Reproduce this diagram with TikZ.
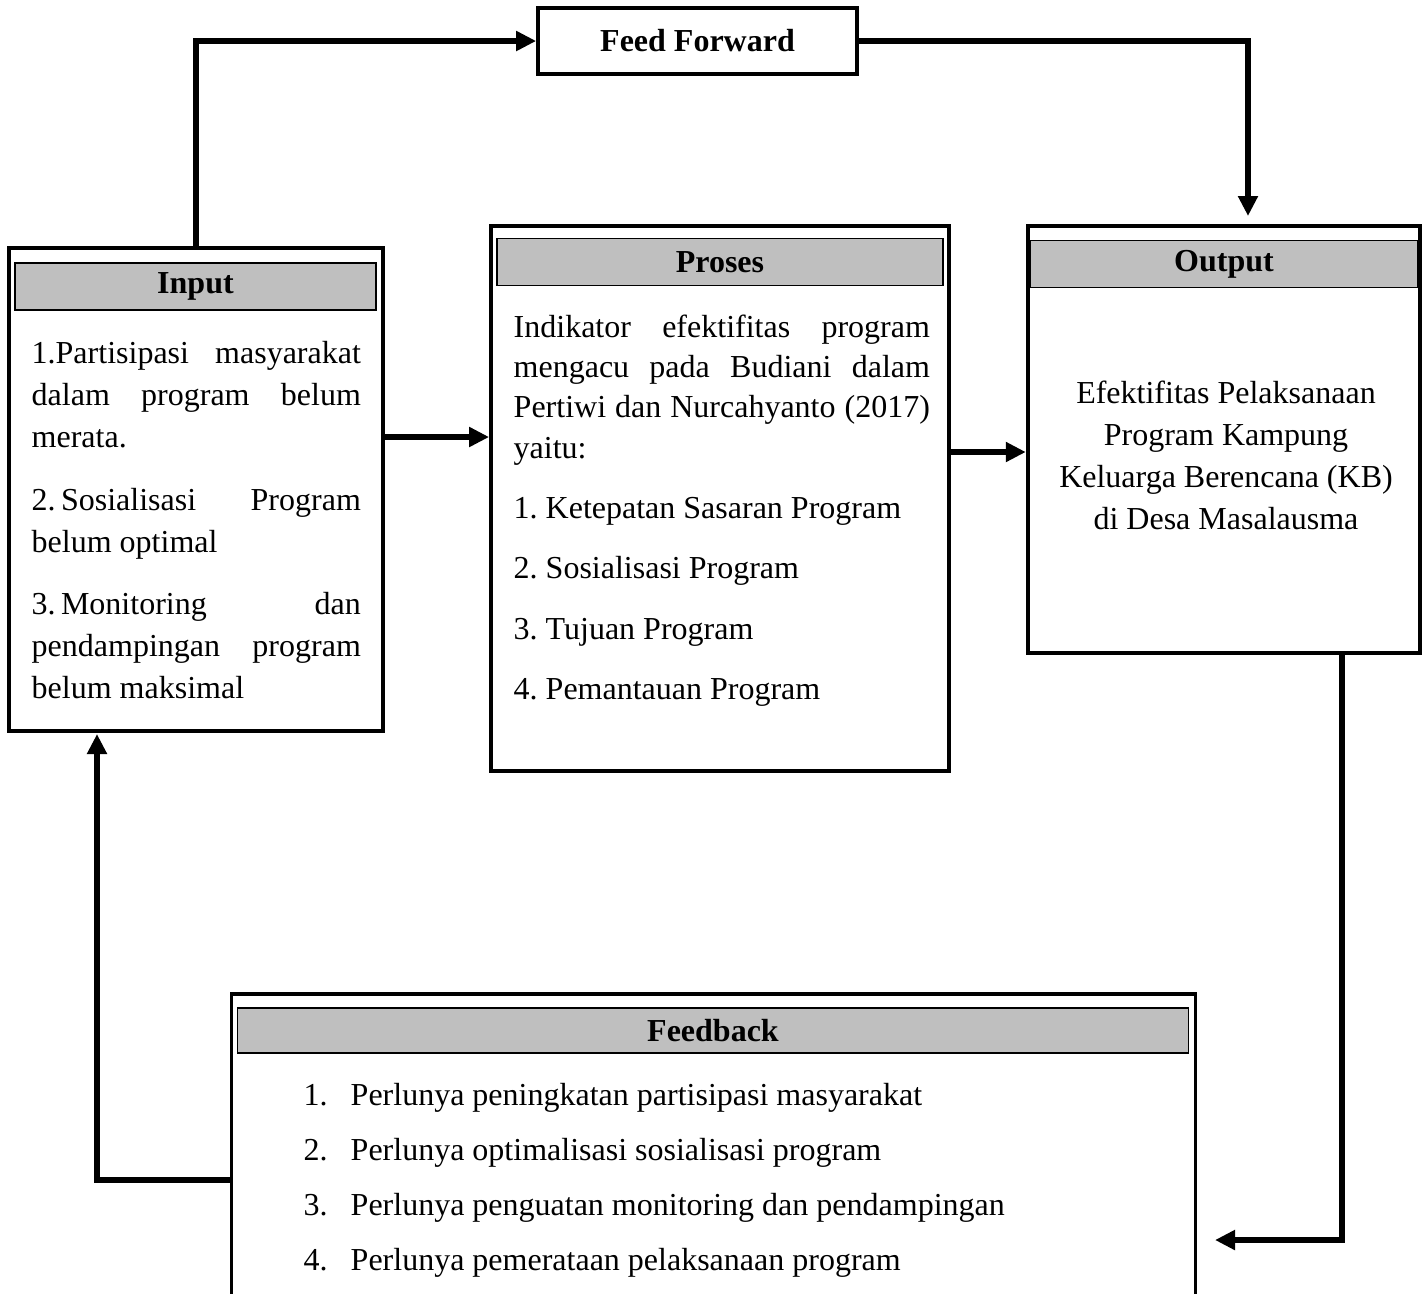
\documentclass[tikz,border=0pt]{standalone}
\usepackage{fontspec}
\setmainfont{Liberation Serif}
\frenchspacing
\usetikzlibrary{arrows.meta, positioning, calc}
\definecolor{headgray}{RGB}{191,191,191}
\tikzstyle{box}=[draw, line width=1pt, rectangle, inner sep=0pt]
\tikzstyle{head}=[draw, fill=headgray, line width=0.4pt, rectangle, inner sep=0pt, minimum height=0.47cm, font=\fontsize{9.1pt}{11.95pt}\selectfont\bfseries]
\tikzstyle{body}=[inner sep=0pt, font=\fontsize{9.1pt}{11.95pt}\selectfont, execute at begin node={\setlength{\parindent}{0pt}\setlength{\parskip}{0.2cm}\tolerance=9999\hyphenpenalty=10000}]
\tikzstyle{flow}=[-{Triangle[length=0.2cm,width=0.19cm]}, line width=1.6pt]

\begin{document}
\begin{tikzpicture}[x=0.01cm, y=-0.01cm]
\useasboundingbox (0,0) rectangle (1424,1293);

% boxes
\node[box, minimum width=3.19cm, minimum height=0.66cm, font=\fontsize{9.1pt}{11.95pt}\selectfont\bfseries] (ff) at (697.5,41) {Feed Forward};

\node[box, minimum width=3.74cm, minimum height=4.83cm] (input) at (196,489.5) {};
\node[head, minimum width=3.61cm] (inputhead) at (195.5,286.5) {Input};
\node[body, text width=3.29cm, align=justify, anchor=north west] (inputtext) at (31,341) {1.Partisipasi masyarakat dalam program belum merata.\par
2.\,Sosialisasi Program belum optimal\par
3.\,Monitoring dan pendampingan program belum maksimal};

\node[box, minimum width=4.58cm, minimum height=5.45cm] (proses) at (720,498.5) {};
\node[head, minimum width=4.46cm] (proseshead) at (720,262) {Proses};
\node[body, text width=4.16cm, align=justify, anchor=north west, font=\fontsize{9.1pt}{11.47pt}\selectfont] (prosestext) at (513,314) {Indikator efektifitas program mengacu pada Budiani dalam Pertiwi dan Nurcahyanto (2017) yaitu:\par
1. Ketepatan Sasaran Program\par
2. Sosialisasi Program\par
3. Tujuan Program\par
4. Pemantauan Program};

\node[box, line width=1.2pt, minimum width=3.92cm, minimum height=4.27cm] (output) at (1224,439.5) {};
\node[head, minimum width=3.88cm] (outputhead) at (1224,264) {Output};
\node[body, align=center, anchor=north] (outputtext) at (1226,380) {Efektifitas Pelaksanaan\\ Program Kampung\\ Keluarga Berencana (KB)\\ di Desa Masalausma};

\node[box, minimum width=9.63cm, minimum height=3.04cm] (feedback) at (713.5,1146) {};
\node[head, minimum width=9.5cm, minimum height=0.45cm] (feedbackhead) at (713,1030.5) {Feedback};
\foreach \t [count=\i] in {Perlunya peningkatan partisipasi masyarakat, Perlunya optimalisasi sosialisasi program, Perlunya penguatan monitoring dan pendampingan, Perlunya pemerataan pelaksanaan program}
{
	\node[body, anchor=base west] (fbnum\i) at (303,{1105+(\i-1)*55.3}) {\i.};
	\node[body, anchor=base west] (fbitem\i) at (350,{1105+(\i-1)*55.3}) {\t};
}

% connectors
\coordinate (ffin) at (1248,216);
\coordinate (ip) at (0,437);
\coordinate (po) at (0,452);
\coordinate (fbin) at (1215,1240);
\coordinate (fbout) at (0,1180);
\coordinate (inback) at (97,734);
\draw[flow] (input.north) |- (ff.west);
\draw[flow] (ff.east) -| (ffin);
\draw[flow] (input.east |- ip) -- (proses.west |- ip);
\draw[flow] (proses.east |- po) -- (output.west |- po);
\draw[flow] ([xshift=-0.8cm]output.south east) |- (fbin);
\draw[flow] (feedback.west |- fbout) -| (inback);
\end{tikzpicture}
\end{document}
